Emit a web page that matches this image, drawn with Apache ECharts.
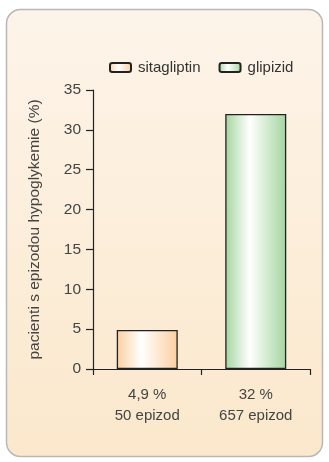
<!DOCTYPE html>
<html>
<head>
<meta charset="utf-8">
<script src="https://cdn.jsdelivr.net/npm/echarts@6/dist/echarts.min.js"></script>
<style>
  html, body { margin: 0; padding: 0; background: #ffffff; }
  #chart { width: 329px; height: 462px; }
</style>
</head>
<body>
<div id="chart"></div>
<script>
// Hypoglycaemia episodes: sitagliptin vs glipizid
const categories = ['4,9 %\n50 epizod', '32 %\n657 epizod'];
const seriesNames = ['sitagliptin', 'glipizid'];
const sitagliptinValues = [4.9, null];
const glipizidValues = [null, 32];
const yTicks = [0, 5, 10, 15, 20, 25, 30, 35];

function barGradient(edge) {
  return new echarts.graphic.LinearGradient(0, 0, 1, 0, [
    { offset: 0, color: edge },
    { offset: 0.4, color: '#ffffff' },
    { offset: 1, color: edge }
  ]);
}

const chart = echarts.init(document.getElementById('chart'), null, { renderer: 'canvas' });

chart.setOption({
  animation: false,
  textStyle: { fontFamily: 'Liberation Sans, Arial, sans-serif' },
  graphic: [{
    type: 'rect',
    z: -10,
    shape: { x: 6.5, y: 9.5, width: 316, height: 447, r: 14 },
    style: {
      fill: new echarts.graphic.LinearGradient(0, 0, 0, 1, [
        { offset: 0, color: '#fdf4e9' },
        { offset: 1, color: '#fbe8cc' }
      ]),
      stroke: '#b8b8b8',
      lineWidth: 1.5
    }
  }],
  legend: {
    data: seriesNames,
    left: 104,
    top: 55,
    itemWidth: 21,
    itemHeight: 9,
    itemGap: 18,
    textStyle: { fontSize: 15, color: '#333', padding: [0, 0, 0, 2] }
  },
  grid: { left: 93, right: 19, top: 90, bottom: 93 },
  xAxis: {
    type: 'category',
    data: categories,
    axisLine: { lineStyle: { color: '#222', width: 1.2 } },
    axisTick: { show: true, length: 6, lineStyle: { color: '#222', width: 1.2 } },
    axisLabel: { fontSize: 15, color: '#444', lineHeight: 21, margin: 15 }
  },
  yAxis: {
    type: 'value',
    min: 0,
    max: 35,
    interval: 5,
    name: 'pacienti s epizodou hypoglykemie (%)',
    nameLocation: 'middle',
    nameGap: 50,
    nameTextStyle: { fontSize: 15.5, color: '#444' },
    axisLine: { show: true, lineStyle: { color: '#222', width: 1.2 } },
    axisTick: { show: true, length: 7, lineStyle: { color: '#222', width: 1.2 } },
    axisLabel: {
      fontSize: 15.5, color: '#444', margin: 12,
      formatter: v => (yTicks.includes(v) ? String(v) : '')
    },
    splitLine: { show: false }
  },
  series: [
    {
      name: seriesNames[0],
      type: 'bar',
      data: sitagliptinValues,
      barWidth: 61,
      barGap: '-100%',
      itemStyle: { color: barGradient('#fbcf9f'), borderColor: '#222', borderWidth: 1.3 }
    },
    {
      name: seriesNames[1],
      type: 'bar',
      data: glipizidValues,
      barWidth: 61,
      itemStyle: { color: barGradient('#a4d59f'), borderColor: '#222', borderWidth: 1.3 }
    }
  ]
});
</script>
</body>
</html>
